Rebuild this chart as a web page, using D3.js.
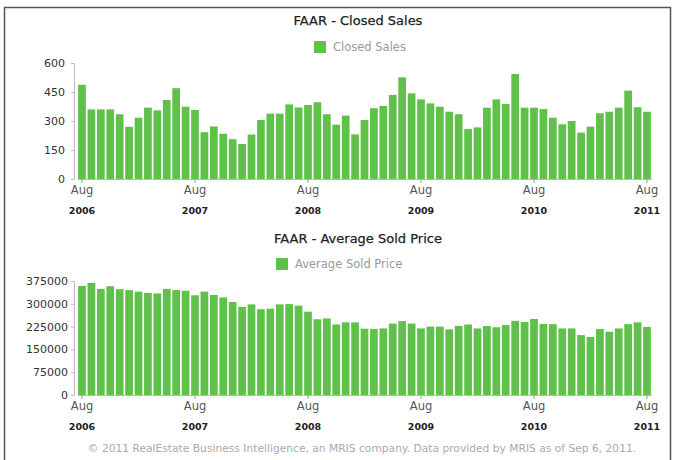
<!DOCTYPE html>
<html>
<head>
<meta charset="utf-8">
<script src="https://cdn.jsdelivr.net/npm/d3@7"></script>
<style>
  body { margin: 0; background: #fff; }
  text { font-family: "DejaVu Sans", Verdana, sans-serif; }
</style>
</head>
<body>
<svg></svg>
<script>
// monthly, Aug 2006 .. Aug 2011
const months = d3.timeMonths(new Date(2006, 7, 1), new Date(2011, 8, 1));

const closedSales = [487, 360, 360, 360, 335, 270, 317, 369, 355, 409, 470, 374, 357, 242, 272, 234, 206, 181, 230, 305,
  338, 338, 386, 370, 383, 397, 335, 281, 328, 231, 305, 366, 378, 435, 526, 443, 412, 391, 374, 348,
  335, 259, 267, 369, 412, 388, 543, 369, 369, 362, 317, 283, 300, 240, 271, 340, 348, 369, 457, 371, 348];

const avgPrice = [359000, 369000, 349000, 358000, 348000, 345000, 340000, 336000, 334000, 349000,
  345000, 343000, 328000, 340000, 329000, 321000, 306000, 290000, 298000, 282000,
  284000, 298000, 299000, 294000, 274000, 249000, 252000, 232000, 239000, 239000,
  218000, 217000, 219000, 235000, 243000, 235000, 219000, 225000, 225000, 216000,
  227000, 232000, 219000, 227000, 223000, 230000, 244000, 240000, 250000, 234000,
  233000, 219000, 219000, 197000, 191000, 217000, 208000, 219000, 233000, 239000, 224000];

const salesTicks = [0, 150, 300, 450, 600];
const priceTicks = [0, 75000, 150000, 225000, 300000, 375000];
const tickIdx = [0, 12, 24, 36, 48, 60];
const tickYears = ["2006", "2007", "2008", "2009", "2010", "2011"];

const width = 686;
const height = 460;
const barColor = "#5fc04a";

const svg = d3.select("svg")
    .attr("width", width)
    .attr("height", height);

// frame
svg.append("path")
    .attr("d", `M4.5,${height} V7.5 H670.5 V${height}`)
    .attr("fill", "none")
    .attr("stroke", "#555")
    .attr("stroke-width", 1.5);

const xScale = d3.scaleBand()
    .domain(d3.range(months.length))
    .range([77.3, 651.7])
    .paddingInner(0.18)
    .paddingOuter(0.09);

function drawChart(cfg) {
  const yScale = d3.scaleLinear()
      .domain([0, cfg.ticks[cfg.ticks.length - 1]])
      .range([cfg.bottom, cfg.top]);

  const g = svg.append("g");

  g.append("text")
      .text(cfg.title)
      .attr("x", 358)
      .attr("y", cfg.titleY)
      .attr("text-anchor", "middle")
      .attr("font-size", "13px")
      .attr("fill", "#222")
      .attr("stroke", "#222")
      .attr("stroke-width", 0.25);

  g.append("rect")
      .attr("x", cfg.legendX)
      .attr("y", cfg.legendY - 10)
      .attr("width", 12)
      .attr("height", 12)
      .attr("fill", barColor);

  g.append("text")
      .text(cfg.legend)
      .attr("x", cfg.legendX + 19)
      .attr("y", cfg.legendY)
      .attr("font-size", "11.5px")
      .attr("fill", "#999");

  // y axis
  const yAxis = d3.axisLeft(yScale)
      .tickValues(cfg.ticks)
      .tickFormat(d3.format("d"))
      .tickSize(3)
      .tickPadding(cfg.tickPad)
      .tickSizeOuter(0);

  g.append("g")
      .attr("transform", `translate(74, 0)`)
      .call(yAxis)
      .call(a => a.select(".domain").attr("stroke", "#bbb"))
      .call(a => a.selectAll(".tick line").attr("stroke", "#bbb"))
      .call(a => a.selectAll(".tick text")
          .attr("font-size", "11px")
          .attr("fill", "#333")
          .attr("font-family", "DejaVu Sans, Verdana, sans-serif"));

  // bars
  g.append("g")
    .selectAll("rect")
    .data(cfg.values)
    .enter()
    .append("rect")
      .attr("x", (d, i) => xScale(i))
      .attr("y", d => yScale(d))
      .attr("width", xScale.bandwidth())
      .attr("height", d => yScale(0) - yScale(d))
      .attr("fill", barColor);

  // x axis
  const xAxis = d3.axisBottom(xScale)
      .tickValues(tickIdx)
      .tickFormat(i => d3.timeFormat("%b")(months[i]))
      .tickSize(4)
      .tickSizeOuter(0);

  const ax = g.append("g")
      .attr("transform", `translate(0, ${cfg.bottom})`)
      .call(xAxis);
  ax.select(".domain").attr("stroke", "#bbb");
  ax.selectAll(".tick line").attr("stroke", "#999");
  ax.selectAll(".tick text")
      .attr("font-size", "11.5px")
      .attr("fill", "#555")
      .attr("font-family", "DejaVu Sans, Verdana, sans-serif");
  ax.selectAll(".tick")
    .append("text")
      .text((d, k) => tickYears[k])
      .attr("y", 35)
      .attr("fill", "#222")
      .attr("font-size", "9.5px")
      .attr("font-weight", "bold")
      .attr("text-anchor", "middle");
}

drawChart({
  title: "FAAR - Closed Sales",
  titleY: 25,
  legend: "Closed Sales",
  legendX: 314,
  legendY: 51,
  values: closedSales,
  ticks: salesTicks,
  tickPad: 6,
  top: 63,
  bottom: 179
});

drawChart({
  title: "FAAR - Average Sold Price",
  titleY: 243,
  legend: "Average Sold Price",
  legendX: 276,
  legendY: 268,
  values: avgPrice,
  ticks: priceTicks,
  tickPad: 3,
  top: 281,
  bottom: 395
});

svg.append("text")
    .text("© 2011 RealEstate Business Intelligence, an MRIS company. Data provided by MRIS as of Sep 6, 2011.")
    .attr("x", 362)
    .attr("y", 452)
    .attr("text-anchor", "middle")
    .attr("font-size", "10.7px")
    .attr("fill", "#aaa");
</script>
</body>
</html>
